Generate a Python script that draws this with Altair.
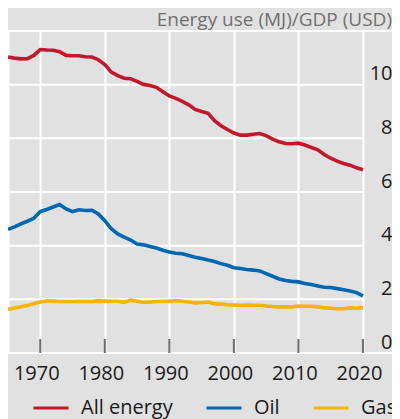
import altair as alt
import pandas as pd

years = list(range(1965, 2021))

all_energy = [11.03, 10.99, 10.96, 10.97, 11.09, 11.31, 11.29, 11.28, 11.23, 11.09,
              11.08, 11.08, 11.04, 11.03, 10.93, 10.75, 10.47, 10.34, 10.24, 10.22,
              10.12, 10.01, 9.97, 9.90, 9.74, 9.58, 9.49, 9.38, 9.25, 9.08,
              9.00, 8.93, 8.66, 8.47, 8.33, 8.20, 8.12, 8.12, 8.15, 8.18,
              8.10, 7.97, 7.87, 7.81, 7.80, 7.82, 7.75, 7.66, 7.57, 7.40,
              7.26, 7.15, 7.06, 7.00, 6.90, 6.83]

oil = [4.61, 4.70, 4.81, 4.91, 5.02, 5.27, 5.35, 5.44, 5.53, 5.37,
       5.27, 5.34, 5.31, 5.32, 5.18, 4.93, 4.63, 4.44, 4.32, 4.21,
       4.06, 4.03, 3.97, 3.91, 3.83, 3.76, 3.72, 3.70, 3.63, 3.57,
       3.52, 3.47, 3.41, 3.33, 3.27, 3.18, 3.15, 3.11, 3.09, 3.06,
       2.96, 2.86, 2.76, 2.70, 2.67, 2.65, 2.59, 2.55, 2.50, 2.45,
       2.44, 2.40, 2.36, 2.31, 2.25, 2.13]

gas = [1.63, 1.68, 1.72, 1.77, 1.84, 1.90, 1.94, 1.94, 1.92, 1.92,
       1.92, 1.93, 1.92, 1.92, 1.95, 1.94, 1.93, 1.93, 1.89, 1.97,
       1.93, 1.88, 1.90, 1.92, 1.93, 1.93, 1.95, 1.93, 1.90, 1.87,
       1.88, 1.90, 1.83, 1.82, 1.80, 1.79, 1.78, 1.79, 1.78, 1.78,
       1.75, 1.73, 1.72, 1.72, 1.72, 1.75, 1.74, 1.74, 1.72, 1.68,
       1.67, 1.65, 1.65, 1.68, 1.67, 1.69]

series_names = ["All energy", "Oil", "Gas"]
series_colors = ["#c1182c", "#0067b1", "#f5b400"]
title_text = "Energy use (MJ)/GDP (USD)"

x_min, x_max = 1965, 2024.5
y_min, y_max = 0, 12
last_year = 2020

x_grid_values = [1965, 1970, 1980, 1990, 2000, 2010, 2020]
decades = [1970, 1980, 1990, 2000, 2010, 2020]
y_label_values = [0, 2, 4, 6, 8, 10]
inner_grid = [2, 4, 6, 8, 10]
frame_lines = [y_min, y_max]

df = pd.DataFrame({
    "year": years * 3,
    "value": all_energy + oil + gas,
    "series": [n for n in series_names for _ in years],
})

x_scale = alt.Scale(domain=[x_min, x_max], nice=False, zero=False)
y_scale = alt.Scale(domain=[y_min, y_max], nice=False)

grid = alt.Chart(pd.DataFrame({"y": inner_grid})).mark_rule(
    color="white", strokeWidth=2
).encode(
    y=alt.Y("y:Q", scale=y_scale),
    x=alt.X(datum=x_min, type="quantitative", scale=x_scale),
    x2=alt.X2(datum=last_year),
)

frame = alt.Chart(pd.DataFrame({"y": frame_lines})).mark_rule(
    color="white", strokeWidth=2
).encode(
    y=alt.Y("y:Q", scale=y_scale),
    x=alt.X(datum=x_min, type="quantitative", scale=x_scale),
    x2=alt.X2(datum=x_max),
)

ticks = alt.Chart(pd.DataFrame({"year": decades})).mark_tick(
    color="#333333", thickness=2, size=14, yOffset=-7, orient="vertical"
).encode(
    x=alt.X("year:Q", scale=x_scale),
    y=alt.Y(datum=0, type="quantitative", scale=y_scale),
)

title = alt.Chart(pd.DataFrame({"t": [title_text]})).mark_text(
    align="right", baseline="alphabetic", dy=-5, fontSize=19,
    color="#707070", font="Open Sans",
).encode(
    x=alt.X(datum=x_max, type="quantitative", scale=x_scale),
    y=alt.Y(datum=y_max, type="quantitative", scale=y_scale),
    text="t:N",
)

lines = alt.Chart(df).mark_line(strokeWidth=3.6).encode(
    x=alt.X(
        "year:Q", scale=x_scale,
        axis=alt.Axis(
            values=x_grid_values, title=None, grid=True, gridColor="white",
            gridWidth=2, ticks=False, tickSize=0, domain=False,
            labelExpr="datum.value == 1965 ? '' : datum.label",
            labelPadding=10, labelOffset=-4, labelFontSize=20,
            labelColor="#1a1a1a", labelFlush=False, labelOverlap=False,
            format="d",
        ),
    ),
    y=alt.Y(
        "value:Q", scale=y_scale,
        axis=alt.Axis(
            orient="right", values=y_label_values, title=None, grid=False,
            ticks=False, tickSize=0, domain=False,
            labelAlign="right", labelBaseline="alphabetic", labelPadding=0,
            labelOffset=-5, labelFontSize=20, labelColor="#1a1a1a",
            labelFlush=False, labelOverlap=False,
        ),
    ),
    color=alt.Color(
        "series:N",
        scale=alt.Scale(domain=series_names, range=series_colors),
        sort=series_names,
        legend=alt.Legend(
            orient="none", legendX=24, legendY=358, direction="horizontal",
            title=None, symbolType="stroke", symbolSize=1225,
            symbolStrokeWidth=3, labelFontSize=20, labelColor="#1a1a1a",
            labelOffset=11, columnPadding=27, padding=0,
        ),
    ),
)

chart = alt.layer(frame, grid, ticks, lines, title).properties(
    width=384,
    height=322,
    autosize=alt.AutoSizeParams(type="none"),
    padding={"left": 0, "top": 23, "right": 0, "bottom": 66},
).configure(
    background="#e1e1e1",
    font="Open Sans",
).configure_view(stroke=None)

chart.save("out.html", embed_options={"renderer": "svg", "actions": False})
